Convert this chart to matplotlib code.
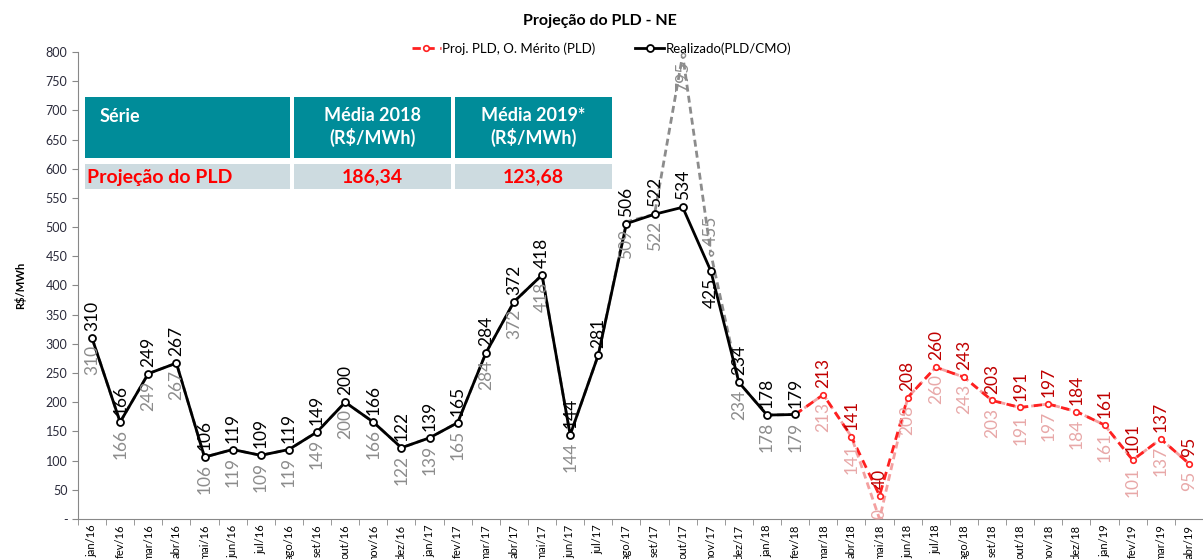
import matplotlib
matplotlib.use('Agg')
import matplotlib.pyplot as plt
from matplotlib.patches import Rectangle

plt.rcParams['font.family'] = ['Lato', 'DejaVu Sans']

meses = ['jan', 'fev', 'mar', 'abr', 'mai', 'jun', 'jul', 'ago', 'set', 'out', 'nov', 'dez']
categorias = [m + '/16' for m in meses] + [m + '/17' for m in meses] + \
             [m + '/18' for m in meses] + [m + '/19' for m in meses[:4]]

# realizado (PLD/CMO) jan/16 .. fev/18
realizado = [310, 166, 249, 267, 106, 119, 109, 119, 149, 200, 166, 122,
             139, 165, 284, 372, 418, 144, 281, 506, 522, 534, 425, 234,
             178, 179]
# CMO (cinza tracejado)
cmo = [310, 166, 249, 267, 106, 119, 109, 119, 149, 200, 166, 122,
       139, 165, 284, 372, 418, 144, 281, 509, 522, 795, 455, 234,
       178, 179]
cmo_rotulo = [True] * 26
cmo_rotulo[18] = False

# projecao PLD fev/18 .. abr/19
proj = [179, 213, 141, 40, 208, 260, 243, 203, 191, 197, 184, 161, 101, 137, 95]
proj_cmo = [179, 213, 141, 0, 208, 260, 243, 203, 191, 197, 184, 161, 101, 137, 95]
proj_inicio = 25

tabela_cab = ['Série', 'Média 2018\n(R$/MWh)', 'Média 2019*\n(R$/MWh)']
tabela_lin = ['Projeção do PLD', '186,34', '123,68']

fig = plt.figure(figsize=(12.03, 5.59), dpi=100)
ax = fig.add_axes([0.0648, 0.0716, 1 - 0.0648, 0.907 - 0.0716])

x_real = list(range(len(realizado)))
x_proj = list(range(proj_inicio, proj_inicio + len(proj)))

ax.plot(x_real, cmo, color='#8c8c8c', ls=(0, (2.5, 1.5)), lw=2, marker='o',
        ms=3, mfc='white', mec='#8c8c8c', zorder=2)
ax.plot(x_proj, proj_cmo, color='#f4a0a0', ls=(0, (2.5, 1.5)), lw=2, marker='o',
        ms=3, mfc='white', mec='#f4a0a0', zorder=2)
l_proj, = ax.plot(x_proj, proj, color='#ff2020', ls=(0, (3, 2)), lw=2, marker='o',
                  ms=4, mfc='white', mec='#ff2020', mew=1.2, zorder=3,
                  label='Proj. PLD, O. Mérito (PLD)')
l_real, = ax.plot(x_real, realizado, color='black', lw=2, marker='o',
                  ms=5, mfc='white', mec='black', mew=1.3, zorder=4,
                  label='Realizado(PLD/CMO)')

# rotulos (acima = serie principal, abaixo = serie clara)
def rotulo(x, v, cor, acima, z):
    if acima:
        off, va = 5, 'bottom'
    else:
        off, va = -5, 'top'
    if v < 30 and not acima:
        off, va = 0, 'bottom'   # rotulo fica dentro da area
    ax.annotate(str(v), (x, v), xytext=(0, off), textcoords='offset points',
                rotation=90, ha='center', va=va, fontsize=12.5, color=cor,
                zorder=z)

for i, v in enumerate(realizado):
    rotulo(i, v, 'black', i != 22, 6)
for i, v in enumerate(cmo):
    if cmo_rotulo[i]:
        rotulo(i, v, '#8c8c8c', i == 22, 5)
for k, v in enumerate(proj[1:], start=1):
    rotulo(x_proj[k], v, '#c00000', True, 6)
for k, v in enumerate(proj_cmo[1:], start=1):
    rotulo(x_proj[k], v, '#e8a8a8', False, 5)

ax.set_ylim(0, 800)
ax.set_xlim(-0.5, 39.17)
ax.set_yticks(range(0, 801, 50))
ax.set_yticklabels(['-'] + [str(v) for v in range(50, 801, 50)], fontsize=9,
                   color='#2a2a3a')
ax.set_xticks(range(len(categorias)))
ax.set_xticklabels(categorias, rotation=90, fontsize=8)
ax.tick_params(axis='x', length=0, pad=4)
ax.set_xticks([i - 0.5 for i in range(len(categorias) + 1)], minor=True)
ax.tick_params(axis='x', which='minor', length=4, color='#888888')
ax.tick_params(axis='y', length=4, color='#888888')
for s in ['top', 'right']:
    ax.spines[s].set_visible(False)
ax.spines['left'].set_color('#888888')
ax.spines['bottom'].set_color('#888888')

ax.set_ylabel('R$/MWh', fontsize=8, fontweight='bold', labelpad=14)

fig.text(0.499, 0.962, 'Projeção do PLD - NE', ha='center', va='center',
         fontsize=11.5, fontweight='bold')
fig.legend(handles=[l_proj, l_real], loc='center', bbox_to_anchor=(0.50, 0.913),
           ncol=2, frameon=False, fontsize=9.5, handlelength=2.2,
           handletextpad=0.1, columnspacing=3)

# tabela
W, H = 1203.0, 559.0
cols = [(85, 290), (294, 451), (455, 612)]
for (a, b), txt, n in zip(cols, tabela_cab, range(3)):
    fig.add_artist(Rectangle((a / W, 1 - 158 / H), (b - a) / W, 61 / H,
                             transform=fig.transFigure, color='#008c99', lw=0))
    fig.add_artist(Rectangle((a / W, 1 - 189 / H), (b - a) / W, 25 / H,
                             transform=fig.transFigure, color='#cddbe0', lw=0))
    if n == 0:
        fig.text(100 / W, 1 - 117 / H, txt, ha='left', va='center', color='white',
                 fontsize=13, fontweight='bold')
    else:
        fig.text((a + b) / 2 / W, 1 - 127 / H, txt, ha='center', va='center',
                 color='white', fontsize=13, fontweight='bold', linespacing=1.3)
fig.text(87 / W, 1 - 177 / H, tabela_lin[0], ha='left', va='center',
         color='#ff0000', fontsize=14, fontweight='bold')
for (a, b), txt in zip(cols[1:], tabela_lin[1:]):
    fig.text((a + b) / 2 / W, 1 - 177 / H, txt, ha='center', va='center',
             color='#ff0000', fontsize=14, fontweight='bold')

fig.savefig('out.png', dpi=100)
